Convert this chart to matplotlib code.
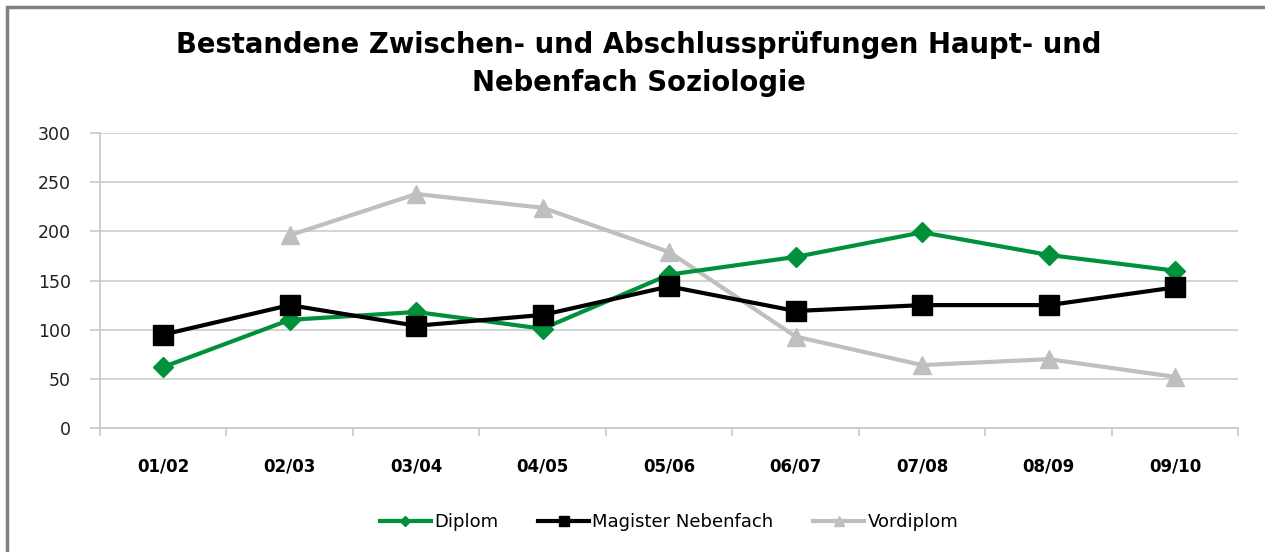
import matplotlib.pyplot as plt
from matplotlib.patches import Rectangle

semesters = ['01/02', '02/03', '03/04', '04/05', '05/06', '06/07', '07/08', '08/09', '09/10']
diplom = [62, 110, 118, 101, 156, 174, 199, 176, 160]
magister = [95, 125, 104, 115, 144, 119, 125, 125, 143]
vordiplom = [None, 196, 238, 224, 179, 93, 64, 70, 52]
y_ticks = [0, 50, 100, 150, 200, 250, 300]

fig = plt.figure(figsize=(12.65, 5.52), dpi=100)
ax = fig.add_axes([0.079, 0.2246, 0.9, 0.5344])

x = list(range(len(semesters)))
vx = [i for i, v in zip(x, vordiplom) if v is not None]
vy = [v for v in vordiplom if v is not None]

ax.plot(x, diplom, color='#00913A', lw=3, marker='D', ms=10, label='Diplom', zorder=3)
ax.plot(x, magister, color='black', lw=3, marker='s', ms=14, label='Magister Nebenfach', zorder=4)
ax.plot(vx, vy, color='#BFBFBF', lw=3, marker='^', ms=13, label='Vordiplom', zorder=2)

ax.set_xlim(-0.5, len(semesters) - 0.5)
ax.set_ylim(0, 300)
ax.set_yticks(y_ticks)
ax.set_yticklabels([str(t) for t in y_ticks], fontsize=12.5, color='#222222')
ax.set_xticks(x)
ax.set_xticklabels(semesters, fontsize=12, fontweight='bold')
ax.set_xticks([i - 0.5 for i in range(len(semesters) + 1)], minor=True)
ax.tick_params(axis='x', which='major', length=0, pad=21)
ax.tick_params(axis='x', which='minor', length=6, color='#C8C8C8', width=1.2)
ax.tick_params(axis='y', length=7, color='#C8C8C8', width=1.2, pad=14)
ax.grid(axis='y', color='#D0D0D0', lw=1.3)
ax.set_axisbelow(True)
for s in ['top', 'right']:
    ax.spines[s].set_visible(False)
ax.spines['left'].set_color('#C8C8C8')
ax.spines['bottom'].set_color('#C8C8C8')
ax.spines['left'].set_linewidth(1.2)
ax.spines['bottom'].set_linewidth(1.2)

fig.text(0.505, 0.884, 'Bestandene Zwischen- und Abschlussprüfungen Haupt- und\nNebenfach Soziologie',
         ha='center', va='center', fontsize=19.8, fontweight='bold', linespacing=1.45)

ax.legend(loc='center', bbox_to_anchor=(0.5, -0.32), ncol=3, frameon=False,
          fontsize=13, markerscale=0.5, handlelength=2.8, columnspacing=2.2, handletextpad=0.2)

fig.patches.append(Rectangle((0.0055, -0.05), 1.1, 0.037 + 1.0, transform=fig.transFigure,
                             fill=False, edgecolor='#808080', lw=2.5))

fig.savefig('out.png', dpi=100)
